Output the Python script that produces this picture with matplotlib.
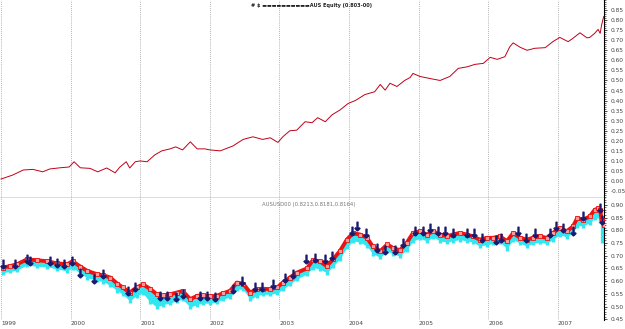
import numpy as np
import matplotlib.pyplot as plt
from matplotlib.ticker import MultipleLocator

# equity curve (top panel), dates in decimal years
eq_dates = [1999.00, 1999.17, 1999.32, 1999.46, 1999.60, 1999.70, 1999.85, 1999.98, 2000.05, 2000.14,
            2000.28, 2000.39, 2000.52, 2000.64, 2000.71, 2000.80, 2000.85, 2000.93, 2001.00, 2001.10,
            2001.21, 2001.31, 2001.43, 2001.51, 2001.61, 2001.72, 2001.82, 2001.93, 2002.00, 2002.15,
            2002.33, 2002.48, 2002.62, 2002.76, 2002.87, 2002.98, 2003.05, 2003.15, 2003.25, 2003.37,
            2003.47, 2003.55, 2003.66, 2003.76, 2003.87, 2003.99, 2004.09, 2004.23, 2004.37, 2004.45,
            2004.52, 2004.59, 2004.69, 2004.80, 2004.88, 2004.92, 2005.02, 2005.16, 2005.31, 2005.45,
            2005.57, 2005.70, 2005.81, 2005.93, 2006.03, 2006.13, 2006.24, 2006.31, 2006.36, 2006.46,
            2006.56, 2006.67, 2006.82, 2006.93, 2007.03, 2007.15, 2007.22, 2007.32, 2007.42, 2007.46,
            2007.53, 2007.58, 2007.61, 2007.63, 2007.66]
eq_vals = [0.010, 0.030, 0.055, 0.058, 0.046, 0.060, 0.066, 0.070, 0.096, 0.066,
           0.063, 0.046, 0.065, 0.041, 0.070, 0.096, 0.065, 0.096, 0.100, 0.096,
           0.130, 0.150, 0.160, 0.170, 0.155, 0.195, 0.160, 0.160, 0.155, 0.150,
           0.174, 0.207, 0.220, 0.207, 0.215, 0.192, 0.220, 0.250, 0.253, 0.295,
           0.290, 0.315, 0.295, 0.330, 0.353, 0.386, 0.400, 0.430, 0.444, 0.480,
           0.452, 0.486, 0.470, 0.500, 0.515, 0.535, 0.520, 0.510, 0.500, 0.520,
           0.560, 0.568, 0.580, 0.585, 0.615, 0.605, 0.618, 0.667, 0.687, 0.665,
           0.650, 0.660, 0.663, 0.693, 0.714, 0.693, 0.710, 0.737, 0.712, 0.714,
           0.734, 0.754, 0.734, 0.775, 0.817]

# AUD/USD price and lows (bottom panel)
px_dates = [1999.03, 1999.13, 1999.23, 1999.37, 1999.52, 1999.66, 1999.80, 1999.95, 2000.03, 2000.14,
            2000.24, 2000.38, 2000.47, 2000.57, 2000.67, 2000.75, 2000.85, 2000.95, 2001.04, 2001.14,
            2001.24, 2001.33, 2001.43, 2001.53, 2001.61, 2001.72, 2001.82, 2001.90, 2002.00, 2002.10,
            2002.19, 2002.29, 2002.39, 2002.48, 2002.58, 2002.68, 2002.76, 2002.87, 2002.97, 2003.05,
            2003.15, 2003.25, 2003.40, 2003.48, 2003.58, 2003.68, 2003.77, 2003.87, 2003.97, 2004.06,
            2004.16, 2004.26, 2004.34, 2004.45, 2004.55, 2004.63, 2004.73, 2004.83, 2004.92, 2005.02,
            2005.12, 2005.21, 2005.31, 2005.41, 2005.49, 2005.59, 2005.70, 2005.78, 2005.88, 2005.98,
            2006.07, 2006.17, 2006.27, 2006.36, 2006.46, 2006.56, 2006.64, 2006.74, 2006.84, 2006.93,
            2007.03, 2007.13, 2007.22, 2007.28, 2007.36, 2007.46, 2007.53, 2007.58, 2007.61, 2007.63,
            2007.66]
px_vals = [0.653, 0.659, 0.666, 0.685, 0.682, 0.678, 0.670, 0.666, 0.678, 0.657,
           0.640, 0.627, 0.623, 0.614, 0.590, 0.575, 0.555, 0.575, 0.587, 0.570,
           0.548, 0.544, 0.548, 0.555, 0.561, 0.529, 0.542, 0.544, 0.540, 0.542,
           0.552, 0.561, 0.594, 0.590, 0.555, 0.568, 0.570, 0.568, 0.575, 0.594,
           0.614, 0.633, 0.650, 0.682, 0.678, 0.659, 0.685, 0.718, 0.763, 0.789,
           0.783, 0.770, 0.737, 0.718, 0.744, 0.731, 0.721, 0.750, 0.789, 0.796,
           0.783, 0.796, 0.783, 0.776, 0.783, 0.789, 0.783, 0.776, 0.763, 0.770,
           0.770, 0.776, 0.757, 0.789, 0.770, 0.763, 0.770, 0.776, 0.770, 0.789,
           0.809, 0.796, 0.815, 0.848, 0.841, 0.854, 0.880, 0.886, 0.880, 0.841,
           0.820]
px_lows = [0.625, 0.630, 0.635, 0.655, 0.650, 0.648, 0.640, 0.632, 0.645, 0.622,
           0.605, 0.595, 0.590, 0.575, 0.555, 0.540, 0.515, 0.535, 0.545, 0.510,
           0.490, 0.500, 0.505, 0.515, 0.520, 0.490, 0.500, 0.505, 0.505, 0.510,
           0.520, 0.530, 0.560, 0.560, 0.520, 0.535, 0.540, 0.540, 0.545, 0.560,
           0.580, 0.600, 0.620, 0.645, 0.640, 0.625, 0.650, 0.680, 0.725, 0.750,
           0.745, 0.730, 0.700, 0.685, 0.710, 0.700, 0.690, 0.715, 0.750, 0.760,
           0.750, 0.765, 0.750, 0.745, 0.750, 0.755, 0.750, 0.745, 0.730, 0.735,
           0.740, 0.745, 0.720, 0.755, 0.740, 0.730, 0.740, 0.745, 0.740, 0.755,
           0.775, 0.765, 0.785, 0.810, 0.810, 0.820, 0.840, 0.850, 0.830, 0.750,
           0.770]

# sell signals (navy arrows)
sig_dates = [1999.03, 1999.20, 1999.37, 1999.42, 1999.70, 1999.80, 1999.90, 2000.02, 2000.14, 2000.33,
             2000.47, 2000.83, 2000.93, 2001.28, 2001.38, 2001.52, 2001.62, 2001.86, 2001.96, 2002.07,
             2002.34, 2002.46, 2002.65, 2002.75, 2002.91, 2003.08, 2003.20, 2003.39, 2003.51, 2003.66,
             2003.75, 2004.04, 2004.11, 2004.25, 2004.40, 2004.52, 2004.66, 2004.78, 2004.95, 2005.07,
             2005.16, 2005.28, 2005.38, 2005.50, 2005.69, 2005.79, 2005.91, 2006.12, 2006.19, 2006.43,
             2006.55, 2006.67, 2006.89, 2006.98, 2007.08, 2007.22, 2007.37, 2007.61, 2007.63]
sig_vals = [0.666, 0.666, 0.685, 0.678, 0.678, 0.672, 0.666, 0.678, 0.633, 0.607,
            0.627, 0.561, 0.575, 0.542, 0.542, 0.536, 0.548, 0.542, 0.542, 0.536,
            0.568, 0.600, 0.575, 0.575, 0.587, 0.614, 0.627, 0.685, 0.692, 0.685,
            0.698, 0.796, 0.815, 0.789, 0.731, 0.724, 0.724, 0.750, 0.796, 0.796,
            0.809, 0.796, 0.796, 0.789, 0.789, 0.789, 0.770, 0.763, 0.770, 0.796,
            0.770, 0.789, 0.789, 0.815, 0.809, 0.796, 0.854, 0.887, 0.841]

years = list(range(1999, 2008))
top_ticks = np.round(np.arange(-0.05, 0.851, 0.05), 2)
bot_ticks = np.round(np.arange(0.45, 0.901, 0.05), 2)

fig = plt.figure(figsize=(6.25, 3.29), dpi=100)
ax1 = fig.add_axes([0.0, 0.398, 0.9664, 0.602])
ax2 = fig.add_axes([0.0, 0.0274, 0.9664, 0.371])

xlim = (1998.986, 2007.665)
tick_kw = dict(labelsize=4.2, labelcolor='#444444', pad=3, length=2, width=0.5)

for ax in (ax1, ax2):
    ax.set_xlim(*xlim)
    for y in years:
        ax.axvline(y, color='#999999', ls=(0, (1, 1.5)), lw=0.6, zorder=0)
    for s in ('left', 'top', 'bottom'):
        ax.spines[s].set_visible(False)
    ax.spines['right'].set_linewidth(0.8)
    ax.yaxis.tick_right()
    ax.yaxis.set_minor_locator(MultipleLocator(0.01))
    ax.tick_params(axis='y', which='major', **tick_kw)
    ax.tick_params(axis='y', which='minor', length=1.2, width=0.4)

# top panel
ax1.plot(eq_dates, eq_vals, color='#c00018', lw=0.7)
ax1.set_ylim(-0.0845, 0.90)
ax1.set_yticks(top_ticks)
ax1.set_yticklabels([f'{v:.2f}' for v in top_ticks])
ax1.set_xticks([])
ax1.spines['bottom'].set_visible(True)
ax1.spines['bottom'].set_color('#555555')
ax1.spines['bottom'].set_linewidth(1.0)
ax1.text(0.515, 0.985, '# $ \u25ac\u25ac\u25ac\u25ac\u25ac\u25ac\u25ac\u25ac\u25ac\u25acAUS Equity (0.803-00)',
         transform=ax1.transAxes, ha='center', va='top', fontsize=3.6,
         fontweight='bold', color='#222222')

# bottom panel
ax2.vlines(px_dates, px_lows, px_vals, color='#33e6f0', lw=2.4, zorder=2)
ax2.fill_between(px_dates, np.array(px_lows) + 0.008, px_vals, color='#33e6f0', lw=0, zorder=2)
ax2.plot(px_dates, px_vals, color='#999999', lw=1.0, zorder=3)
ax2.plot(px_dates, px_vals, color='#ee1111', lw=2.8, zorder=4)
ax2.plot(px_dates, px_vals, ls='none', marker='s', ms=3, mfc='#ff9a9a', mec='#ee1111', mew=0.6, zorder=5)
ax2.scatter(sig_dates, sig_vals, marker=r'$\downarrow$', s=38, color='#1a1a6e', zorder=6)
ax2.set_ylim(0.447, 0.927)
ax2.set_yticks(bot_ticks)
ax2.set_yticklabels([f'{v:.2f}' for v in bot_ticks])
ax2.set_xticks(years)
ax2.set_xticklabels([str(y) for y in years], ha='left')
ax2.tick_params(axis='x', length=0, pad=1, labelsize=4.2, labelcolor='#444444')
ax2.text(0.434, 0.965, 'AUSUSD00 (0.8213,0.8181,0.8164)', transform=ax2.transAxes,
         ha='left', va='top', fontsize=3.8, color='#777777')

fig.savefig('out.png', dpi=100)
